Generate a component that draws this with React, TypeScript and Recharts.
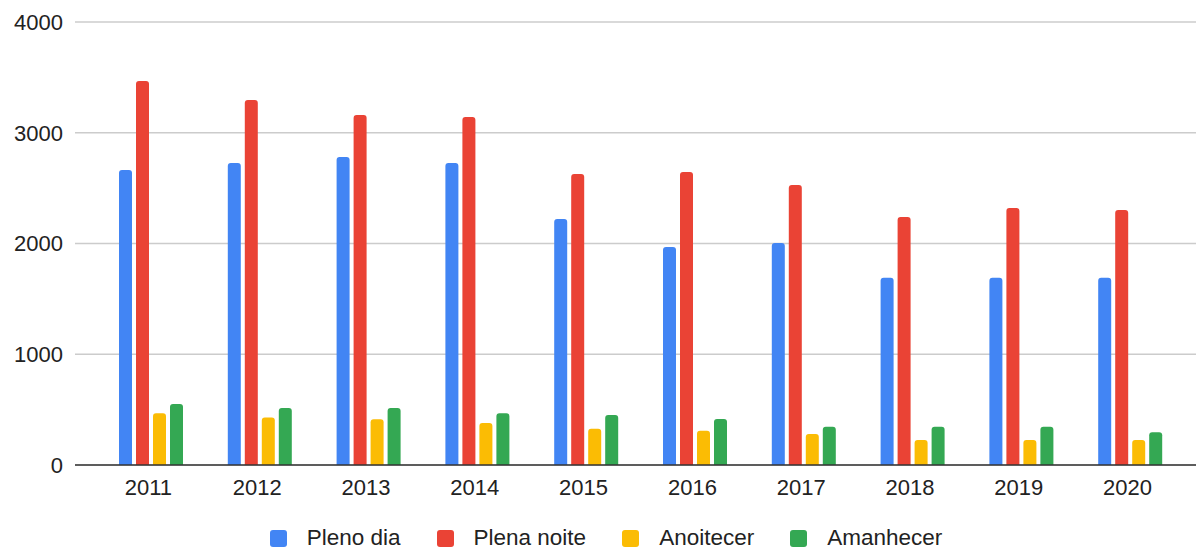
import React from 'react';
import {
  BarChart,
  Bar,
  XAxis,
  YAxis,
  CartesianGrid,
  Legend
} from 'recharts';

const years = ['2011', '2012', '2013', '2014', '2015', '2016', '2017', '2018', '2019', '2020'];
const plenoDia = [2664, 2727, 2781, 2727, 2221, 1968, 2004, 1690, 1690, 1690];
const plenaNoite = [3467, 3296, 3160, 3142, 2628, 2646, 2528, 2239, 2320, 2302];
const anoitecer = [467, 430, 413, 379, 328, 310, 280, 226, 226, 226];
const amanhecer = [551, 515, 515, 467, 451, 415, 346, 346, 346, 295];
const yTicks = [0, 1000, 2000, 3000, 4000];

const series = [
  { key: 'plenoDia', name: 'Pleno dia', color: '#4285F4' },
  { key: 'plenaNoite', name: 'Plena noite', color: '#EA4335' },
  { key: 'anoitecer', name: 'Anoitecer', color: '#FBBC04' },
  { key: 'amanhecer', name: 'Amanhecer', color: '#34A853' }
];

const data = years.map((year, i) => ({
  year,
  plenoDia: plenoDia[i],
  plenaNoite: plenaNoite[i],
  anoitecer: anoitecer[i],
  amanhecer: amanhecer[i]
}));

const font = 'Arial, "Liberation Sans", sans-serif';

function LegendContent() {
  return (
    <div
      style={{
        display: 'flex',
        justifyContent: 'center',
        alignItems: 'center',
        paddingTop: 22,
        paddingLeft: 52,
        fontFamily: font,
        fontSize: 22.5,
        color: '#222'
      }}
    >
      {series.map((s) => (
        <span key={s.key} style={{ display: 'flex', alignItems: 'center', marginRight: 36 }}>
          <span
            style={{
              display: 'inline-block',
              width: 17,
              height: 17,
              borderRadius: 3,
              background: s.color,
              marginRight: 20
            }}
          />
          {s.name}
        </span>
      ))}
    </div>
  );
}

export default function App() {
  return (
    <div style={{ position: 'absolute', left: 0, top: 0, background: '#fff' }}>
      <BarChart
        width={1196}
        height={548}
        data={data}
        margin={{ top: 22, right: 0, left: 0, bottom: 0 }}
        barSize={13}
        barGap={4}
      >
        <CartesianGrid vertical={false} stroke="#cccccc" strokeWidth={1.5} />
        <XAxis
          dataKey="year"
          height={38}
          padding={{ left: 22, right: 11 }}
          tickLine={false}
          tickSize={0}
          tickMargin={14}
          axisLine={{ stroke: '#333', strokeWidth: 1.5 }}
          tick={{ fill: '#222', fontSize: 22, fontFamily: font, dx: -3 }}
        />
        <YAxis
          width={75}
          domain={[0, 4000]}
          ticks={yTicks}
          axisLine={false}
          tickLine={false}
          tickSize={0}
          tickMargin={12}
          tick={{ fill: '#222', fontSize: 22, fontFamily: font }}
        />
        <Legend verticalAlign="bottom" height={45} content={<LegendContent />} />
        {series.map((s) => (
          <Bar
            key={s.key}
            dataKey={s.key}
            name={s.name}
            fill={s.color}
            radius={[3, 3, 0, 0]}
            isAnimationActive={false}
          />
        ))}
      </BarChart>
    </div>
  );
}
